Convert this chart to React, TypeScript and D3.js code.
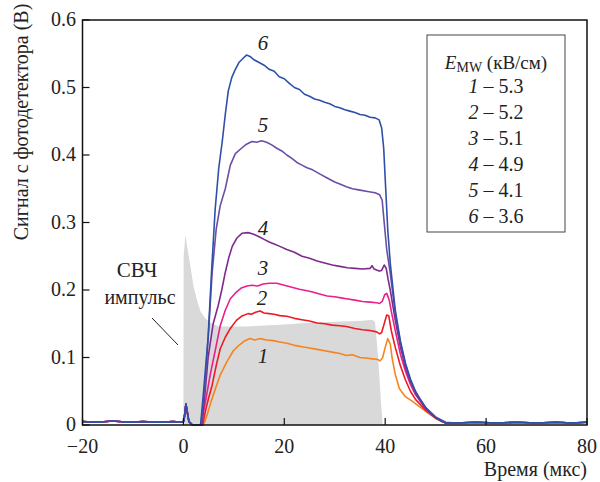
import React from "react";
import * as d3 from "d3";

const W = 600;
const H = 482;
const margin = { top: 20, right: 13, bottom: 57, left: 82.5 };

// shared baseline before the pulse and after the decay
const baselineBefore: [number, number][] = [
  [-20, 0.005], [-17, 0.004], [-14, 0.006], [-11, 0.004], [-8, 0.005],
  [-5, 0.004], [-2, 0.005], [-0.3, 0.004], [0.1, 0.006], [0.5, 0.031],
  [1.1, 0.005], [1.8, 0], [3.3, 0],
];
const baselineAfter: [number, number][] = [
  [54, 0.003], [58, 0.004], [62, 0.003], [66, 0.004], [70, 0.003],
  [74, 0.004], [77, 0.003], [80, 0.004],
];

const curve1: [number, number][] = [
  [4, 0], [4.7, 0.015], [5.5, 0.035], [6.4, 0.055], [7.3, 0.074], [8.5, 0.092],
  [9.9, 0.11], [11, 0.118], [12, 0.124], [13.2, 0.128], [14.2, 0.126], [15.2, 0.128],
  [16.5, 0.126], [17.8, 0.125], [19.1, 0.123], [20.5, 0.121], [22, 0.118], [23.5, 0.116],
  [25, 0.114], [26.5, 0.112], [28, 0.11], [29.5, 0.108], [31, 0.106], [32.3, 0.103],
  [33.5, 0.104], [35, 0.1], [36.5, 0.099], [37.5, 0.098], [38.5, 0.097], [39, 0.095],
  [39.5, 0.1], [40, 0.115], [40.5, 0.128], [41, 0.12], [41.4, 0.098], [42, 0.075],
  [42.8, 0.054], [44, 0.042], [45.4, 0.035], [47, 0.026], [48.1, 0.02], [49, 0.015],
  [50, 0.01], [51, 0.006], [52, 0.003],
];
const curve2: [number, number][] = [
  [3.8, 0], [4.5, 0.025], [5, 0.04], [5.7, 0.059], [6.5, 0.088], [7.3, 0.113],
  [8.3, 0.13], [9.3, 0.143], [10.5, 0.155], [11.5, 0.161], [12.8, 0.165], [13.5, 0.164],
  [14.3, 0.167], [15.2, 0.169], [16, 0.166], [17, 0.165], [18, 0.164], [19.1, 0.162],
  [20.5, 0.161], [22, 0.158], [23.5, 0.156], [25, 0.154], [26.5, 0.151], [28, 0.15],
  [29.5, 0.148], [31, 0.147], [32.3, 0.146], [34, 0.143], [35.5, 0.141], [37, 0.14],
  [38.3, 0.138], [38.9, 0.135], [39.3, 0.137], [39.8, 0.15], [40.3, 0.163], [40.7, 0.162],
  [41.2, 0.14], [42, 0.115], [43, 0.088], [44, 0.067], [45, 0.05], [46, 0.038],
  [48, 0.022], [50, 0.01], [52, 0.003],
];
const curve3: [number, number][] = [
  [3.7, 0], [3.9, 0.015], [4.5, 0.04], [5.3, 0.074], [6.3, 0.11], [7.3, 0.147],
  [8.3, 0.17], [9.3, 0.187], [10.5, 0.197], [11.5, 0.203], [12.6, 0.206], [13.6, 0.207],
  [14.7, 0.206], [15.8, 0.209], [17, 0.21], [18.5, 0.21], [20, 0.207], [21.5, 0.204],
  [23, 0.201], [24.5, 0.199], [25.6, 0.197], [27, 0.194], [28.5, 0.191], [30, 0.19],
  [31.5, 0.188], [32.3, 0.187], [34, 0.185], [35.5, 0.183], [37, 0.182], [38.3, 0.181],
  [38.9, 0.18], [39.4, 0.183], [39.9, 0.193], [40.3, 0.195], [40.8, 0.185], [41.3, 0.165],
  [42, 0.14], [43, 0.105], [44, 0.08], [45, 0.06], [46, 0.045], [48, 0.024],
  [50, 0.011], [52, 0.003],
];
const curve4: [number, number][] = [
  [3.6, 0], [4.2, 0.04], [4.9, 0.1], [5.9, 0.15], [6.9, 0.177], [7.6, 0.2],
  [8.3, 0.226], [9, 0.248], [9.7, 0.265], [10.6, 0.277], [11.6, 0.284], [12.8, 0.285],
  [13.8, 0.283], [15, 0.279], [16, 0.275], [17, 0.271], [18, 0.268], [19, 0.265],
  [20.5, 0.26], [22, 0.256], [23.5, 0.25], [25, 0.247], [26.5, 0.243], [28, 0.24],
  [29.5, 0.237], [31, 0.235], [32.5, 0.233], [34, 0.232], [35.5, 0.231], [37, 0.232],
  [37.4, 0.236], [37.8, 0.231], [38.8, 0.228], [39.3, 0.229], [39.8, 0.237], [40.2, 0.232],
  [40.6, 0.215], [41, 0.2], [42, 0.155], [43, 0.116], [44, 0.086], [45, 0.064],
  [46, 0.047], [48, 0.025], [50, 0.011], [52, 0.003],
];
const curve5: [number, number][] = [
  [3.5, 0], [4.3, 0.06], [5, 0.14], [5.7, 0.226], [6.5, 0.29], [7.3, 0.325],
  [8.3, 0.35], [9.3, 0.385], [10.3, 0.402], [11.5, 0.41], [12.5, 0.416], [13.6, 0.42],
  [14.5, 0.419], [15.5, 0.421], [16.5, 0.419], [17.5, 0.415], [18.5, 0.41], [19.5, 0.406],
  [20.5, 0.4], [21.5, 0.395], [22.5, 0.389], [23.5, 0.385], [24.5, 0.381], [25.6, 0.378],
  [27, 0.372], [28.5, 0.366], [30, 0.36], [31, 0.357], [32.3, 0.353], [33.5, 0.35],
  [35, 0.348], [36.5, 0.346], [38, 0.344], [38.9, 0.341], [39.4, 0.333], [39.8, 0.3],
  [40.3, 0.26], [41, 0.225], [42, 0.165], [43, 0.122], [44, 0.09], [45, 0.066],
  [46, 0.049], [48, 0.026], [50, 0.012], [52, 0.004],
];
const curve6: [number, number][] = [
  [3.4, 0], [4, 0.05], [4.9, 0.13], [5.6, 0.23], [6.3, 0.32], [7, 0.38],
  [7.7, 0.42], [8.3, 0.46], [8.9, 0.495], [9.6, 0.515], [10.3, 0.527], [11, 0.537],
  [11.8, 0.543], [12.5, 0.548], [13.2, 0.546], [14, 0.541], [15, 0.537], [16, 0.533],
  [17, 0.527], [18, 0.524], [19, 0.516], [20, 0.513], [21, 0.506], [22, 0.5],
  [23, 0.497], [24, 0.49], [25, 0.487], [26, 0.483], [27, 0.481], [28, 0.478],
  [29, 0.476], [30, 0.472], [31, 0.47], [32, 0.467], [33, 0.465], [34, 0.463],
  [35, 0.46], [36, 0.459], [37, 0.456], [38, 0.455], [38.8, 0.452], [39.3, 0.44],
  [39.7, 0.41], [40.1, 0.35], [40.5, 0.29], [41, 0.24], [42, 0.17], [43, 0.125],
  [44, 0.092], [45, 0.068], [46, 0.05], [47, 0.037], [48, 0.026], [49, 0.017],
  [50, 0.011], [51, 0.006], [52, 0.003],
];

// microwave pulse envelope (grey area)
const pulse: [number, number][] = [
  [0, 0], [0.05, 0.25], [0.4, 0.282], [0.8, 0.262], [1.4, 0.235], [2, 0.206],
  [2.7, 0.185], [3.4, 0.168], [4.3, 0.158], [5.3, 0.152], [7, 0.146], [12.8, 0.146],
  [20, 0.149], [25.6, 0.152], [30, 0.153], [35, 0.154], [37.5, 0.156], [38, 0.152],
  [38.6, 0.1], [39.2, 0.03], [39.5, 0],
];

const seriesNames = ["1", "2", "3", "4", "5", "6"];
const seriesColors = ["#f5841f", "#ec1c24", "#ec1f8c", "#7d2b8b", "#6b4ea3", "#2e50a8"];
const seriesData = [curve1, curve2, curve3, curve4, curve5, curve6];
const fieldValues = ["5.3", "5.2", "5.1", "4.9", "4.1", "3.6"];
// where the curve numbers sit: [time, signal]
const labelPos: [number, number][] = [
  [15.8, 0.092], [15.6, 0.178], [15.8, 0.222], [15.8, 0.282], [15.8, 0.434], [15.8, 0.555],
];

const xTicks = [-20, 0, 20, 40, 60, 80];
const yTicks = [0, 0.1, 0.2, 0.3, 0.4, 0.5, 0.6];

const serif = { fontFamily: '"Liberation Serif", "DejaVu Serif", serif' };

export default function App() {
  const x = d3.scaleLinear().domain([-20, 80]).range([margin.left, W - margin.right]);
  const y = d3.scaleLinear().domain([0, 0.6]).range([H - margin.bottom, margin.top]);
  const line = d3
    .line<[number, number]>()
    .x((d) => x(d[0]))
    .y((d) => y(d[1]));
  const area = d3
    .area<[number, number]>()
    .x((d) => x(d[0]))
    .y0(y(0))
    .y1((d) => y(d[1]));

  const x0 = x(-20);
  const x1 = x(80);
  const y0 = y(0);
  const y1 = y(0.6);

  const legX = 427;
  const legY = 35;

  return (
    <svg
      width={W}
      height={H}
      style={{ position: "absolute", left: 0, top: 0, background: "#fff" }}
    >
      <path d={area(pulse) ?? ""} fill="#d9d9d9" />
      {seriesData.map((s, i) => (
        <path
          key={i}
          d={line([...baselineBefore, ...s, ...baselineAfter]) ?? ""}
          fill="none"
          stroke={seriesColors[i]}
          strokeWidth={1.6}
          strokeLinejoin="round"
        />
      ))}

      {/* curve numbers */}
      {seriesNames.map((n, i) => (
        <text
          key={n}
          x={x(labelPos[i][0])}
          y={y(labelPos[i][1])}
          fontSize={21}
          fontStyle="italic"
          textAnchor="middle"
          fill="#222"
          style={serif}
        >
          {n}
        </text>
      ))}

      {/* СВЧ pulse annotation */}
      <text x={137} y={277} fontSize={21} textAnchor="middle" fill="#222" style={serif}>
        СВЧ
      </text>
      <text x={140} y={304} fontSize={20} textAnchor="middle" fill="#222" style={serif}>
        импульс
      </text>
      <line x1={152} y1={318} x2={178} y2={345} stroke="#222" strokeWidth={1} />

      {/* frame */}
      <rect x={x0} y={y1} width={x1 - x0} height={y0 - y1} fill="none" stroke="#111" strokeWidth={1.5} />

      {/* ticks */}
      {xTicks.map((t) => (
        <g key={t}>
          <line x1={x(t)} x2={x(t)} y1={y0} y2={y0 - 7} stroke="#111" strokeWidth={1.2} />
          <text x={x(t)} y={453} fontSize={20} textAnchor="middle" fill="#222" style={serif}>
            {t < 0 ? "\u2212" + Math.abs(t) : t}
          </text>
        </g>
      ))}
      {yTicks.map((t) => (
        <g key={t}>
          <line x1={x0} x2={x0 + 7} y1={y(t)} y2={y(t)} stroke="#111" strokeWidth={1.2} />
          <text x={76} y={y(t) + 6} fontSize={20} textAnchor="end" fill="#222" style={serif}>
            {t === 0 ? "0" : t.toFixed(1)}
          </text>
        </g>
      ))}

      {/* axis titles */}
      <text x={587} y={476} fontSize={20} textAnchor="end" fill="#222" style={serif}>
        Время (мкс)
      </text>
      <text
        transform="translate(28,122) rotate(-90)"
        fontSize={20}
        textAnchor="middle"
        fill="#222"
        style={serif}
      >
        Сигнал с фотодетектора (В)
      </text>

      {/* legend */}
      <rect x={legX} y={legY} width={138} height={197} fill="#fff" stroke="#444" strokeWidth={1} />
      <text x={496} y={69} fontSize={19} textAnchor="middle" fill="#222" style={serif}>
        <tspan fontStyle="italic">E</tspan>
        <tspan fontSize={14} dy={3}>MW</tspan>
        <tspan dy={-3}> (кВ/см)</tspan>
      </text>
      {seriesNames.map((n, i) => (
        <text key={n} x={496} y={93 + i * 26} fontSize={20} textAnchor="middle" fill="#222" style={serif}>
          <tspan fontStyle="italic">{n}</tspan>
          <tspan>{" \u2013 " + fieldValues[i]}</tspan>
        </text>
      ))}
    </svg>
  );
}
